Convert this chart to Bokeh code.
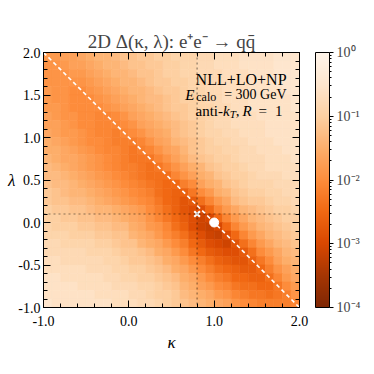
from bokeh.plotting import figure
from bokeh.models import (ColumnDataSource, LogColorMapper, ColorBar, FixedTicker,
                          LinearAxis, Span, Label, Range1d, PrintfTickFormatter,
                          CustomJSTickFormatter)
from bokeh.transform import transform
from bokeh.embed import file_html
from bokeh.resources import INLINE

# bin centres
kappa_centers = [-0.95, -0.85, -0.75, -0.65, -0.55, -0.45, -0.35, -0.25, -0.15, -0.05,
                 0.05, 0.15, 0.25, 0.35, 0.45, 0.55, 0.65, 0.75, 0.85, 0.95,
                 1.05, 1.15, 1.25, 1.35, 1.45, 1.55, 1.65, 1.75, 1.85, 1.95]
lambda_centers = [1.95, 1.85, 1.75, 1.65, 1.55, 1.45, 1.35, 1.25, 1.15, 1.05,
                  0.95, 0.85, 0.75, 0.65, 0.55, 0.45, 0.35, 0.25, 0.15, 0.05,
                  -0.05, -0.15, -0.25, -0.35, -0.45, -0.55, -0.65, -0.75, -0.85, -0.95]

# Delta(kappa, lambda), as -10*log10(Delta); rows top (lambda=1.95) to bottom
neg_log10_delta_x10 = [
    [18, 18, 17, 17, 16, 15, 14, 14, 13, 12, 12, 11, 11, 10, 10, 9, 9, 9, 8, 8, 7, 7, 7, 6, 6, 6, 6, 5, 5, 5],
    [19, 19, 18, 17, 17, 16, 15, 14, 14, 13, 12, 12, 11, 11, 10, 10, 9, 9, 8, 8, 7, 7, 7, 6, 6, 6, 6, 5, 5, 5],
    [19, 19, 19, 18, 18, 17, 16, 15, 14, 14, 13, 12, 12, 11, 10, 10, 9, 9, 8, 8, 8, 7, 7, 7, 6, 6, 6, 5, 5, 5],
    [19, 19, 19, 19, 19, 18, 17, 16, 15, 14, 14, 13, 12, 11, 11, 10, 10, 9, 9, 8, 8, 7, 7, 7, 6, 6, 6, 5, 5, 5],
    [18, 19, 19, 20, 20, 19, 18, 17, 16, 15, 14, 14, 13, 12, 11, 11, 10, 9, 9, 8, 8, 7, 7, 7, 6, 6, 6, 6, 5, 5],
    [18, 19, 19, 20, 20, 20, 19, 18, 17, 16, 15, 14, 13, 13, 12, 11, 10, 10, 9, 8, 8, 7, 7, 7, 6, 6, 6, 6, 6, 5],
    [18, 18, 19, 20, 20, 20, 20, 19, 18, 17, 16, 15, 14, 13, 12, 11, 11, 10, 9, 9, 8, 8, 7, 7, 6, 6, 6, 6, 6, 5],
    [17, 18, 19, 19, 20, 20, 21, 21, 20, 19, 17, 16, 15, 14, 13, 12, 11, 10, 10, 9, 8, 8, 7, 7, 7, 6, 6, 6, 6, 6],
    [17, 17, 18, 19, 20, 20, 21, 21, 21, 20, 19, 17, 16, 15, 14, 13, 12, 11, 10, 9, 8, 8, 7, 7, 7, 7, 6, 6, 6, 6],
    [16, 17, 18, 18, 19, 20, 21, 21, 22, 21, 20, 19, 17, 16, 15, 13, 12, 11, 10, 9, 9, 8, 8, 7, 7, 7, 6, 6, 6, 6],
    [15, 16, 17, 18, 19, 20, 20, 21, 22, 22, 22, 21, 19, 17, 16, 14, 13, 12, 11, 10, 9, 9, 8, 8, 7, 7, 7, 6, 6, 6],
    [15, 15, 16, 17, 18, 19, 20, 21, 21, 22, 23, 22, 21, 19, 17, 16, 14, 12, 11, 10, 10, 9, 9, 8, 8, 7, 7, 7, 6, 6],
    [14, 15, 16, 16, 17, 18, 19, 20, 21, 22, 23, 23, 23, 21, 19, 17, 15, 13, 12, 11, 10, 10, 9, 8, 8, 8, 7, 7, 7, 6],
    [13, 14, 15, 16, 17, 18, 19, 20, 21, 22, 22, 23, 24, 23, 21, 19, 17, 15, 14, 12, 11, 10, 10, 9, 8, 8, 7, 7, 7, 7],
    [13, 13, 14, 15, 16, 17, 18, 19, 20, 21, 22, 23, 24, 24, 24, 21, 19, 17, 15, 14, 12, 11, 10, 10, 9, 8, 8, 8, 7, 7],
    [12, 13, 13, 14, 15, 16, 17, 18, 19, 20, 21, 22, 23, 24, 25, 25, 22, 20, 17, 15, 14, 12, 11, 10, 9, 9, 9, 8, 8, 8],
    [11, 12, 13, 14, 14, 15, 16, 17, 18, 19, 20, 21, 22, 24, 25, 26, 26, 23, 20, 18, 15, 14, 12, 11, 10, 10, 9, 9, 8, 8],
    [11, 12, 12, 13, 13, 14, 15, 16, 17, 18, 19, 20, 21, 23, 25, 26, 28, 27, 24, 21, 18, 16, 13, 12, 11, 11, 10, 9, 9, 8],
    [10, 11, 11, 12, 12, 13, 14, 14, 15, 16, 17, 18, 20, 22, 24, 26, 28, 29, 29, 25, 21, 18, 16, 14, 13, 12, 11, 10, 10, 9],
    [10, 10, 11, 11, 12, 12, 13, 13, 14, 15, 16, 17, 19, 21, 23, 25, 27, 29, 31, 30, 25, 21, 18, 16, 14, 13, 12, 11, 10, 10],
    [9, 10, 10, 10, 11, 11, 12, 12, 13, 13, 15, 16, 18, 19, 21, 24, 26, 29, 31, 32, 30, 25, 21, 18, 16, 14, 13, 12, 11, 10],
    [9, 9, 9, 10, 10, 10, 11, 11, 12, 12, 14, 15, 16, 18, 20, 22, 24, 27, 29, 31, 32, 29, 25, 21, 18, 16, 14, 13, 12, 11],
    [8, 8, 9, 9, 9, 9, 10, 10, 11, 12, 12, 14, 15, 16, 18, 20, 22, 25, 27, 29, 30, 31, 28, 24, 21, 18, 16, 14, 13, 12],
    [8, 8, 8, 8, 8, 9, 9, 9, 10, 11, 11, 12, 13, 15, 16, 18, 20, 23, 25, 27, 28, 29, 29, 27, 24, 20, 18, 16, 14, 13],
    [7, 7, 8, 8, 8, 8, 8, 9, 9, 10, 11, 11, 12, 13, 15, 16, 18, 20, 22, 24, 26, 27, 28, 28, 26, 23, 20, 17, 15, 14],
    [7, 7, 7, 7, 7, 8, 8, 8, 9, 9, 10, 10, 11, 12, 13, 15, 16, 18, 20, 22, 24, 25, 26, 27, 27, 25, 22, 19, 17, 15],
    [6, 6, 7, 7, 7, 7, 7, 8, 8, 9, 9, 10, 10, 11, 12, 13, 15, 16, 18, 20, 22, 23, 25, 25, 26, 26, 24, 21, 18, 16],
    [6, 6, 6, 6, 7, 7, 7, 7, 8, 8, 8, 9, 9, 10, 11, 12, 14, 15, 17, 18, 20, 21, 23, 24, 24, 25, 25, 23, 20, 18],
    [6, 6, 6, 6, 6, 6, 7, 7, 7, 7, 8, 8, 9, 10, 10, 11, 13, 14, 15, 16, 18, 19, 21, 22, 23, 23, 24, 23, 22, 19],
    [5, 6, 6, 6, 6, 6, 6, 6, 7, 7, 7, 8, 8, 9, 10, 11, 12, 13, 14, 15, 16, 17, 19, 20, 21, 22, 22, 22, 22, 21],
]

truth_k, truth_l = [1.0], [0.0]          # white dot
best_k, best_l = [0.8], [0.1]            # white cross, dotted guide lines
diag_k, diag_l = [-1.0, 2.0], [2.0, -1.0]  # kappa + lambda = 1

x_major = [-1.0, 0.0, 1.0, 2.0]
x_minor = [-0.8, -0.6, -0.4, -0.2, 0.2, 0.4, 0.6, 0.8, 1.2, 1.4, 1.6, 1.8]
y_major = [-1.0, -0.5, 0.0, 0.5, 1.0, 1.5, 2.0]
y_minor = [-0.9, -0.8, -0.7, -0.6, -0.4, -0.3, -0.2, -0.1, 0.1, 0.2, 0.3, 0.4,
           0.6, 0.7, 0.8, 0.9, 1.1, 1.2, 1.3, 1.4, 1.6, 1.7, 1.8, 1.9]
cb_major = [1e-4, 1e-3, 1e-2, 1e-1, 1.0]
cb_labels = {1e-4: "10⁻⁴", 1e-3: "10⁻³", 1e-2: "10⁻²", 1e-1: "10⁻¹", 1.0: "10⁰"}

# matplotlib "Oranges" anchors, dark -> light (reversed map)
anchors = ["#7f2704", "#a63603", "#d94801", "#f16913", "#fd8d3c",
           "#fdae6b", "#fdd0a2", "#fee6ce", "#fff5eb"]
def h2r(h):
    return tuple(int(h[i:i + 2], 16) for i in (1, 3, 5))
pal = []
for n in range(256):
    t = n / 255 * 8
    a = min(int(t), 7)
    f = t - a
    c0, c1 = h2r(anchors[a]), h2r(anchors[a + 1])
    pal.append("#%02x%02x%02x" % tuple(int(round(c0[m] + (c1[m] - c0[m]) * f)) for m in range(3)))
mapper = LogColorMapper(palette=pal, low=1e-4, high=1.0)

xs, ys, vs = [], [], []
for j, l in enumerate(lambda_centers):
    for i, k in enumerate(kappa_centers):
        xs.append(k); ys.append(l); vs.append(10 ** (-neg_log10_delta_x10[j][i] / 10))
src = ColumnDataSource(dict(x=xs, y=ys, v=vs))

FONT = "Liberation Serif"
p = figure(width=366, height=366, x_range=Range1d(-1, 2), y_range=Range1d(-1, 2),
           output_backend="svg", toolbar_location=None,
           min_border_left=43, min_border_top=52, min_border_right=67, min_border_bottom=59)
p.xgrid.grid_line_color = None
p.ygrid.grid_line_color = None
p.outline_line_color = "black"
p.background_fill_color = "white"

p.title.text = "2D Δ(κ, λ): e⁺e⁻ → qq̄"
p.title.align = "center"
p.title.text_font = FONT
p.title.text_font_size = "19px"
p.title.text_font_style = "normal"
p.title.standoff = 2

p.rect(x="x", y="y", width=0.1, height=0.1, source=src,
       fill_color=transform("v", mapper), line_color=transform("v", mapper), line_width=0.6)

p.line(diag_k, diag_l, line_color="white", line_width=1.6, line_dash="4 3")
p.add_layout(Span(location=best_k[0], dimension="height", line_color="black", line_alpha=0.45,
                  line_dash="2 3", line_width=1.2))
p.add_layout(Span(location=best_l[0], dimension="width", line_color="black", line_alpha=0.45,
                  line_dash="2 3", line_width=1.2))
p.scatter(best_k, best_l, marker="x", size=8, line_color="white", line_width=2)
p.scatter(truth_k, truth_l, marker="circle", size=9, fill_color="white", line_color="white")

def style(ax):
    ax.axis_line_color = "black"
    ax.axis_line_width = 1
    ax.major_tick_in = 7; ax.major_tick_out = 0
    ax.minor_tick_in = 4; ax.minor_tick_out = 0
    ax.major_tick_line_color = "black"; ax.minor_tick_line_color = "black"
    ax.major_label_text_font = FONT
    ax.major_label_text_font_size = "14px"
    ax.major_label_text_color = "black"
    ax.axis_label_text_font = FONT
    ax.axis_label_text_font_size = "17px"
    ax.axis_label_text_font_style = "italic"
    ax.axis_label_text_color = "black"

p.xaxis.ticker = FixedTicker(ticks=x_major, minor_ticks=x_minor)
p.yaxis.ticker = FixedTicker(ticks=y_major, minor_ticks=y_minor)
p.xaxis.formatter = PrintfTickFormatter(format="%.1f")
p.yaxis.formatter = PrintfTickFormatter(format="%.1f")
style(p.xaxis[0]); style(p.yaxis[0])
p.xaxis.major_label_standoff = 8
p.yaxis.major_label_standoff = 3
p.xaxis.axis_label = "κ"
p.xaxis.axis_label_standoff = 4
p.yaxis.axis_label = "λ"
p.yaxis.axis_label_orientation = "horizontal"
p.yaxis.axis_label_standoff = 0

empty = CustomJSTickFormatter(code="return ''")
top = LinearAxis(ticker=FixedTicker(ticks=x_major, minor_ticks=x_minor), formatter=empty)
right = LinearAxis(ticker=FixedTicker(ticks=y_major, minor_ticks=y_minor), formatter=empty)
style(top); style(right)
for ax in (top, right):
    ax.major_label_standoff = 0
    ax.major_label_text_font_size = "0px"
p.add_layout(top, "above")
p.add_layout(right, "right")

cb_minor = [m * 10.0 ** e for e in (-4, -3, -2, -1) for m in range(2, 10)]
cb = ColorBar(color_mapper=mapper, width=14, height=255, padding=0, margin=0, location=(16, 0),
              ticker=FixedTicker(ticks=cb_major, minor_ticks=cb_minor),
              major_label_overrides=cb_labels,
              bar_line_color="black", bar_line_width=1,
              major_tick_in=0, major_tick_out=4, minor_tick_in=0, minor_tick_out=2,
              major_tick_line_color="black", minor_tick_line_color="black",
              major_label_text_font=FONT, major_label_text_font_size="14px",
              label_standoff=3, background_fill_color=None, border_line_color=None)
p.add_layout(cb, "right")

def lab(x, y, text, size="16px", align="left", style="normal"):
    p.add_layout(Label(x=x, y=y, text=text, text_font=FONT, text_font_size=size,
                       text_align=align, text_font_style=style, text_baseline="alphabetic",
                       text_color="black"))

lab(1.848, 1.682, "NLL+LO+NP", size="16px", align="right")
lab(0.660, 1.502, "E", size="15px", style="italic")
lab(0.790, 1.471, "calo", size="12px")
lab(1.848, 1.502, "= 300 GeV", size="14px", align="right")
lab(0.781, 1.306, "anti-", size="15px")
lab(1.104, 1.306, "k", size="15px", style="italic")
lab(1.182, 1.271, "T", size="11px", style="italic")
lab(1.254, 1.306, ",", size="15px")
lab(1.332, 1.306, "R", size="15px", style="italic")
lab(1.520, 1.306, "=", size="15px")
lab(1.800, 1.306, "1", size="15px", align="right")

open("out.html", "w").write(file_html(p, INLINE))
